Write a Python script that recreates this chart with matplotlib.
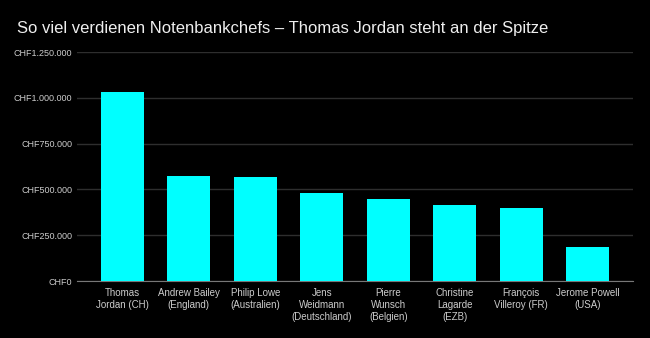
import matplotlib.pyplot as plt
import matplotlib.ticker as mticker
import numpy as np

plt.rcParams['font.family'] = ['Liberation Sans', 'DejaVu Sans']

# Gehälter der Notenbankchefs in CHF
namen = ["Thomas\nJordan (CH)", "Andrew Bailey\n(England)", "Philip Lowe\n(Australien)",
         "Jens\nWeidmann\n(Deutschland)", "Pierre\nWunsch\n(Belgien)", "Christine\nLagarde\n(EZB)",
         "François\nVilleroy (FR)", "Jerome Powell\n(USA)"]
gehalt = [1030000, 575000, 568000, 480000, 448000, 415000, 398000, 186000]
y_ticks = [0, 250000, 500000, 750000, 1000000, 1250000]


def fmt_chf(v, pos=None):
    return "CHF" + f"{int(v):,}".replace(",", ".")


fig = plt.figure(figsize=(6.5, 3.38), dpi=100, facecolor="black")
ax = fig.add_axes([0.1185, 0.1686, 0.8555, 0.6774], facecolor="black")

x = np.arange(len(namen))
ax.bar(x, gehalt, width=0.65, color="#00ffff", zorder=3)

ax.set_xlim(-0.68, len(namen) - 0.32)
ax.set_ylim(0, 1250000)
ax.set_yticks(y_ticks)
ax.yaxis.set_major_formatter(mticker.FuncFormatter(fmt_chf))
ax.set_xticks(x)
ax.set_xticklabels(namen, fontsize=7, color="#cccccc", linespacing=1.25)

ax.grid(axis="y", color="#2e2e2e", linewidth=1, zorder=0)
for s in ["top", "right", "left"]:
    ax.spines[s].set_visible(False)
ax.spines["bottom"].set_color("#777777")
ax.tick_params(axis="y", length=0, labelsize=6.5, labelcolor="#cccccc", pad=3.5)
ax.tick_params(axis="x", length=0, pad=5)

fig.text(0.026, 0.915, "So viel verdienen Notenbankchefs – Thomas Jordan steht an der Spitze",
         fontsize=12, color="#eeeeee", va="center", ha="left")

fig.savefig("out.png", dpi=100, facecolor="black")
